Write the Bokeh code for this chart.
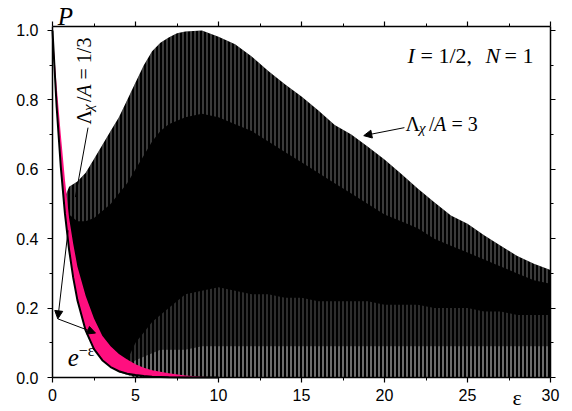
import math
from bokeh.plotting import figure
from bokeh.models import (Range1d, LinearAxis, Label, Arrow, NormalHead,
                          FixedTicker, PrintfTickFormatter,
                          CustomLabelingPolicy)
from bokeh.embed import file_html
from bokeh.resources import INLINE

# ---------------- data ----------------
# Lambda_x/A = 3 : oscillating band (envelopes)
eps_band = [0.75, 1, 1.5, 2, 2.5, 3, 3.5, 4, 4.5, 5, 5.5, 6, 6.5, 7, 7.5, 8,
            9, 10, 11, 12, 13, 14, 15, 16, 17, 18, 19, 20, 21, 22, 23, 24, 25,
            26, 27, 28, 29, 30]
band_top = [0.52, 0.55, 0.565, 0.59, 0.63, 0.67, 0.71, 0.75, 0.80, 0.85, 0.90,
            0.94, 0.965, 0.98, 0.992, 0.997,
            1.0, 0.982, 0.96, 0.925, 0.883, 0.845, 0.81, 0.77, 0.728, 0.70,
            0.665, 0.628, 0.587, 0.545, 0.505, 0.467, 0.443, 0.41, 0.38, 0.35,
            0.328, 0.31]
band_bottom = [0.50, 0.40, 0.26, 0.17, 0.11, 0.07, 0.04, 0.015, 0.008, 0.0,
               0.0, 0.0, 0.0, 0.0, 0.0, 0.0,
               0.0, 0.0, 0.0, 0.0, 0.0, 0.0, 0.0, 0.0, 0.0, 0.0, 0.0, 0.0,
               0.0, 0.0, 0.0, 0.0, 0.0, 0.0, 0.0, 0.0, 0.0, 0.0]
# level down to which the white gaps between the spikes reach
spike_floor = [0.50, 0.47, 0.45, 0.45, 0.46, 0.48, 0.50, 0.53, 0.56, 0.60,
               0.64, 0.68, 0.71, 0.73, 0.74, 0.75,
               0.76, 0.75, 0.73, 0.71, 0.68, 0.65, 0.62, 0.59, 0.56, 0.53,
               0.50, 0.47, 0.45, 0.43, 0.40, 0.38, 0.36, 0.34, 0.32, 0.30,
               0.28, 0.27]
# level up to which the dense white gaps near the axis reach
stripe_dense = [0.0, 0.0, 0.0, 0.0, 0.0, 0.0, 0.0, 0.0, 0.03, 0.05, 0.06,
                0.07, 0.08, 0.08, 0.08, 0.08,
                0.09, 0.09, 0.09, 0.09, 0.09, 0.09, 0.09, 0.09, 0.09, 0.09,
                0.09, 0.09, 0.09, 0.09, 0.09, 0.09, 0.09, 0.09, 0.09, 0.09,
                0.09, 0.09]
# level up to which the sparse white gaps reach
stripe_top = [0.0, 0.0, 0.0, 0.0, 0.0, 0.0, 0.0, 0.0, 0.05, 0.10, 0.13, 0.16,
              0.18, 0.20, 0.22, 0.24,
              0.25, 0.26, 0.25, 0.24, 0.24, 0.23, 0.23, 0.22, 0.22, 0.22,
              0.22, 0.21, 0.21, 0.21, 0.20, 0.20, 0.20, 0.19, 0.19, 0.18,
              0.18, 0.18]

# Lambda_x/A = 1/3 : pink band, bounded below by e^-eps
eps_pink = [0, 0.25, 0.5, 0.75, 1, 1.25, 1.5, 2, 2.5, 3, 3.5, 4, 4.5, 5, 5.5,
            6, 7, 8, 9, 10]
exp_curve = [1.0, 0.78, 0.607, 0.472, 0.368, 0.287, 0.223, 0.135, 0.082,
             0.050, 0.030, 0.018, 0.011, 0.007, 0.004, 0.0025, 0.001, 0.0003,
             0.0001, 0.0]
pink_top = [1.0, 0.84, 0.70, 0.57, 0.46, 0.385, 0.32, 0.235, 0.17, 0.12, 0.09,
            0.068, 0.052, 0.038, 0.028, 0.021, 0.012, 0.006, 0.002, 0.0]

x_ticks = [0, 5, 10, 15, 20, 25, 30]
x_minor = [2.5, 7.5, 12.5, 17.5, 22.5, 27.5]
y_ticks = [0.0, 0.2, 0.4, 0.6, 0.8, 1.0]
y_minor = [0.1, 0.3, 0.5, 0.7, 0.9]

X_LO, X_HI = 0.0, 30.0
Y_LO, Y_HI = 0.0, 1.0115

PINK = "#FF0F7F"
SERIF = "Liberation Serif"
SANS = "Liberation Sans Narrow, Liberation Sans"

# The frame covers the whole canvas; the axes are drawn at fixed locations so
# that the texts placed outside the data box are not clipped.
W, H = 570, 411
PX0, PX1 = 52.0, 550.0      # canvas x of eps = 0 and eps = 30
PY0, PY1 = 377.0, 26.0      # canvas y of P = 0 and P = Y_HI
sx = (X_HI - X_LO) / (PX1 - PX0)
sy = (Y_HI - Y_LO) / (PY0 - PY1)
x_range = Range1d(X_LO - PX0 * sx, X_HI + (W - PX1) * sx)
y_range = Range1d(Y_LO - (H - PY0) * sy, Y_HI + PY1 * sy)

p = figure(width=W, height=H, x_range=x_range, y_range=y_range,
           output_backend="svg", toolbar_location=None,
           min_border_left=0, min_border_right=0, min_border_top=0,
           min_border_bottom=0, x_axis_location=None, y_axis_location=None)
p.xgrid.visible = False
p.ygrid.visible = False
p.outline_line_color = None
p.background_fill_color = "white"
p.border_fill_color = "white"

# ---------------- glyphs ----------------
p.varea(x=eps_band, y1=band_bottom, y2=band_top, fill_color="black")
p.varea(x=eps_band, y1=spike_floor, y2=band_top, fill_alpha=0,
        hatch_pattern="vertical_line", hatch_color="white", hatch_scale=4,
        hatch_weight=1, hatch_alpha=0.45)
p.varea(x=eps_band, y1=[0.0] * len(eps_band), y2=stripe_top, fill_alpha=0,
        hatch_pattern="vertical_line", hatch_color="white", hatch_scale=4,
        hatch_weight=1, hatch_alpha=0.35)
p.varea(x=eps_band, y1=[0.0] * len(eps_band), y2=stripe_dense, fill_alpha=0,
        hatch_pattern="vertical_line", hatch_color="white", hatch_scale=4,
        hatch_weight=1, hatch_alpha=0.6)
p.varea(x=eps_pink, y1=exp_curve, y2=pink_top, fill_color=PINK)
p.line(x=eps_pink, y=exp_curve, line_color="black", line_width=2)

# ---------------- axes ----------------
no_labels = CustomLabelingPolicy(code="return new Set()")


def make_axis(ticks, minor, loc, bounds, labels=True):
    ax = LinearAxis(ticker=FixedTicker(ticks=ticks, minor_ticks=minor),
                    fixed_location=loc, bounds=bounds)
    ax.axis_line_width = 1.5
    ax.axis_line_color = "black"
    ax.major_tick_line_color = "black"
    ax.minor_tick_line_color = "black"
    ax.major_tick_line_width = 1.2
    ax.minor_tick_line_width = 1
    ax.major_tick_in = 0
    ax.major_tick_out = 5
    ax.minor_tick_in = 0
    ax.minor_tick_out = 3
    ax.major_label_text_font = SANS
    ax.major_label_text_font_size = "16px"
    ax.major_label_text_color = "black"
    if not labels:
        ax.major_label_policy = no_labels
        ax.major_label_standoff = 0
    return ax


bottom_ax = make_axis(x_ticks, x_minor, Y_LO, (X_LO, X_HI))
bottom_ax.major_label_standoff = 6
left_ax = make_axis(y_ticks, y_minor, X_LO, (Y_LO, Y_HI))
left_ax.formatter = PrintfTickFormatter(format="%.1f")
left_ax.major_label_standoff = 9
top_ax = make_axis(x_ticks, x_minor, Y_HI, (X_LO, X_HI), labels=False)
right_ax = make_axis(y_ticks, y_minor, X_HI, (Y_LO, Y_HI), labels=False)
p.add_layout(bottom_ax, "below")
p.add_layout(left_ax, "left")
p.add_layout(top_ax, "above")
p.add_layout(right_ax, "right")

# text baselines are drawn a little low; lift them by this many pixels
LIFT = 6.5
DY = LIFT * sy
DX = LIFT * sx


# ---------------- texts ----------------
def lab(text, x, y, size, style="normal", angle=0.0, xo=0, font=SERIF):
    if angle:
        x = x - DX
    else:
        y = y + DY
    p.add_layout(Label(x=x, y=y, text=text, text_font=font,
                       text_font_size=f"{size}px", text_font_style=style,
                       angle=angle, x_offset=xo, text_color="black",
                       text_baseline="alphabetic", text_align="left"))


def head():
    return NormalHead(size=8, fill_color="black", line_color="black")


# axis titles
lab("P", 0.32, 1.023, 25, "italic")
lab("ε", 27.71, -0.075, 22)

# I = 1/2, N = 1
lab("I", 21.39, 0.908, 22, "italic", xo=0)
lab("= 1/2,", 21.39, 0.908, 22, xo=13)
lab("N", 21.39, 0.908, 22, "italic", xo=78)
lab("= 1", 21.39, 0.908, 22, xo=97)

# Lambda_x/A = 3
lab("Λ", 21.27, 0.712, 20, xo=0)
lab("χ", 21.27, 0.7005, 15, "italic", xo=13.5)
lab("/", 21.27, 0.712, 20, xo=23.5)
lab("A", 21.27, 0.712, 20, "italic", xo=28.5)
lab("= 3", 21.27, 0.712, 20, xo=46)
p.add_layout(Arrow(x_start=21.2, y_start=0.72, x_end=18.75, y_end=0.697,
                   line_width=1, line_color="black", end=head()))

# Lambda_x/A = 1/3 (rotated)
R = math.pi / 2
lab("Λ", 2.306, 0.729, 20, angle=R)
lab("χ", 2.547, 0.768, 15, "italic", angle=R)
lab("/", 2.306, 0.794, 20, angle=R)
lab("A", 2.306, 0.809, 20, "italic", angle=R)
lab("= 1/3", 2.306, 0.859, 20, angle=R)
p.add_layout(Arrow(x_start=2.14, y_start=0.72, x_end=1.38, y_end=0.52,
                   line_width=1, line_color="black", end=None))

# e^-eps
lab("e", 0.92, 0.040, 25, "italic")
lab("−ε", 1.58, 0.058, 16)
p.add_layout(Arrow(x_start=0.94, y_start=0.424, x_end=0.32, y_end=0.169,
                   line_width=1, line_color="black", end=head()))
p.add_layout(Arrow(x_start=0.32, y_start=0.169, x_end=2.59, y_end=0.128,
                   line_width=1, line_color="black", end=head()))

open("out.html", "w").write(file_html(p, INLINE))
